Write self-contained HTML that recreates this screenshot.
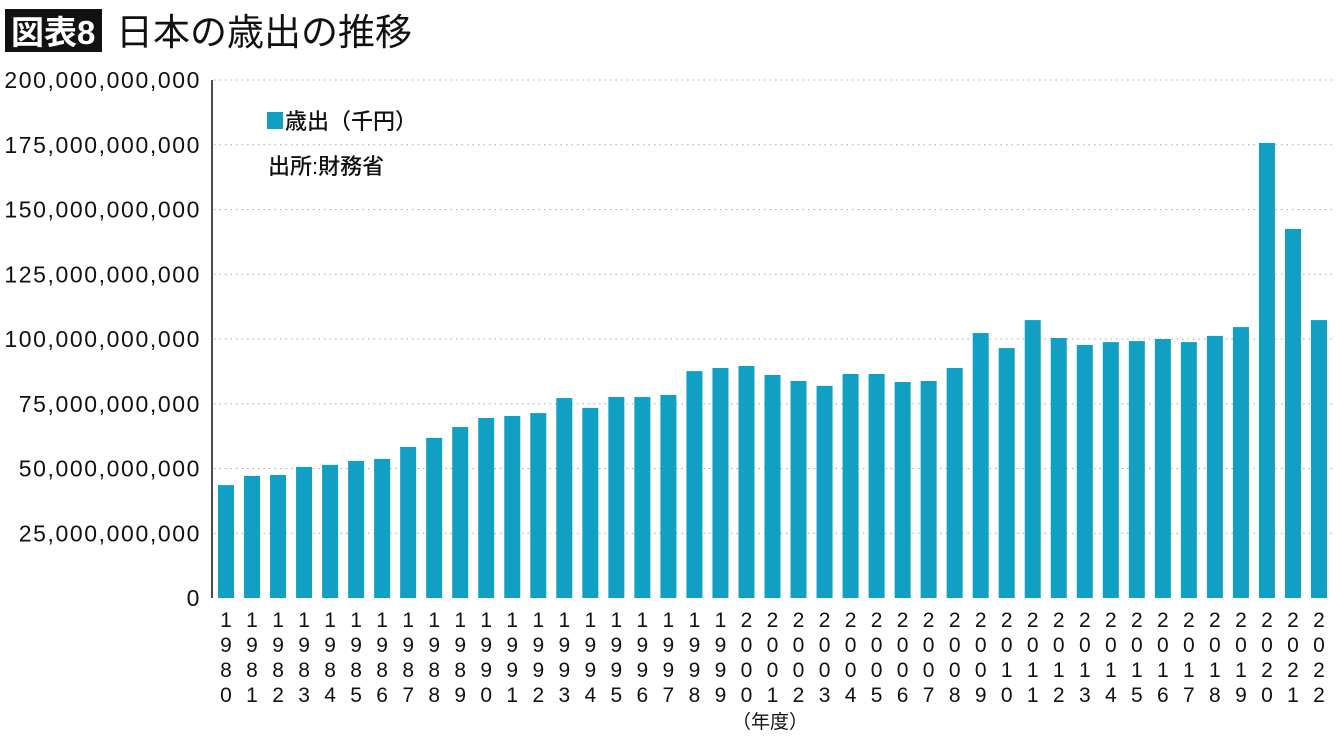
<!DOCTYPE html>
<html><head><meta charset="utf-8"><style>
body{margin:0;background:#fff;width:1340px;height:740px;overflow:hidden;font-family:"Liberation Sans","Noto Sans CJK JP",sans-serif}
</style></head><body>
<svg id="c" width="1340" height="740" xmlns="http://www.w3.org/2000/svg" font-family="Liberation Sans, Noto Sans CJK JP, sans-serif">
<rect x="5" y="9" width="97" height="43" fill="#111"/>
<text x="11" y="44" font-size="33" fill="#fff" font-weight="bold">図表8</text>
<text x="116" y="45" font-size="37" fill="#111">日本の歳出の推移</text>
<rect x="267" y="112" width="16" height="17" fill="#129fc4"/>
<text x="285" y="129" font-size="22" fill="#111" font-weight="500">歳出（千円）</text>
<text x="268" y="174" font-size="22" fill="#111" font-weight="500">出所:財務省</text>
<text x="770" y="728" font-size="19" fill="#111" text-anchor="middle">（年度）</text>
</svg>
<script>
const years=[1980,1981,1982,1983,1984,1985,1986,1987,1988,1989,1990,1991,1992,1993,1994,1995,1996,1997,1998,1999,2000,2001,2002,2003,2004,2005,2006,2007,2008,2009,2010,2011,2012,2013,2014,2015,2016,2017,2018,2019,2020,2021,2022];
const spending=[43.6,47.1,47.5,50.6,51.4,52.9,53.7,58.3,61.8,66.0,69.5,70.3,71.4,77.2,73.4,77.6,77.6,78.4,87.6,88.8,89.6,86.1,83.8,81.9,86.5,86.5,83.4,83.8,88.8,102.3,96.5,107.3,100.4,97.7,98.8,99.2,100.0,98.8,101.2,104.6,175.7,142.5,107.3];
const yTicks=[0,25,50,75,100,125,150,175,200];
const yTickLabels=["0","25,000,000,000","50,000,000,000","75,000,000,000","100,000,000,000","125,000,000,000","150,000,000,000","175,000,000,000","200,000,000,000"];
const svg=document.getElementById('c');const NS='http://www.w3.org/2000/svg';
const y0=598,y1=80,yMax=200;
const yS=v=>y0-(v/yMax)*(y0-y1);
const xS=i=>226+i*(1319-226)/(years.length-1);
function mk(t,a){const e=document.createElementNS(NS,t);for(const k in a)e.setAttribute(k,a[k]);svg.appendChild(e);return e;}
yTicks.forEach((v,i)=>{
 if(v>0){const g=mk('line',{x1:214,x2:1336,y1:yS(v),y2:yS(v),stroke:'#aaa','stroke-width':1,'stroke-dasharray':'1.5 4'});
 
 }
 const t=mk('text',{x:201,y:yS(v)+8,'font-size':23,'letter-spacing':1.6,'text-anchor':'end',fill:'#111'});t.textContent=yTickLabels[i];
 
 
});
spending.forEach((v,i)=>{
 const r=mk('rect',{x:xS(i)-8,y:yS(v),width:16,height:y0-yS(v),fill:'#129fc4'});
 
 
 String(years[i]).split('').forEach((d,j)=>{
  const t=mk('text',{x:xS(i),y:627+j*25,'font-size':21,'text-anchor':'middle',fill:'#111'});t.textContent=d;
  
  
 });
});
const ax=mk('line',{x1:212,x2:212,y1:80,y2:598,stroke:'#111','stroke-width':1.5});


</script>
</body></html>
